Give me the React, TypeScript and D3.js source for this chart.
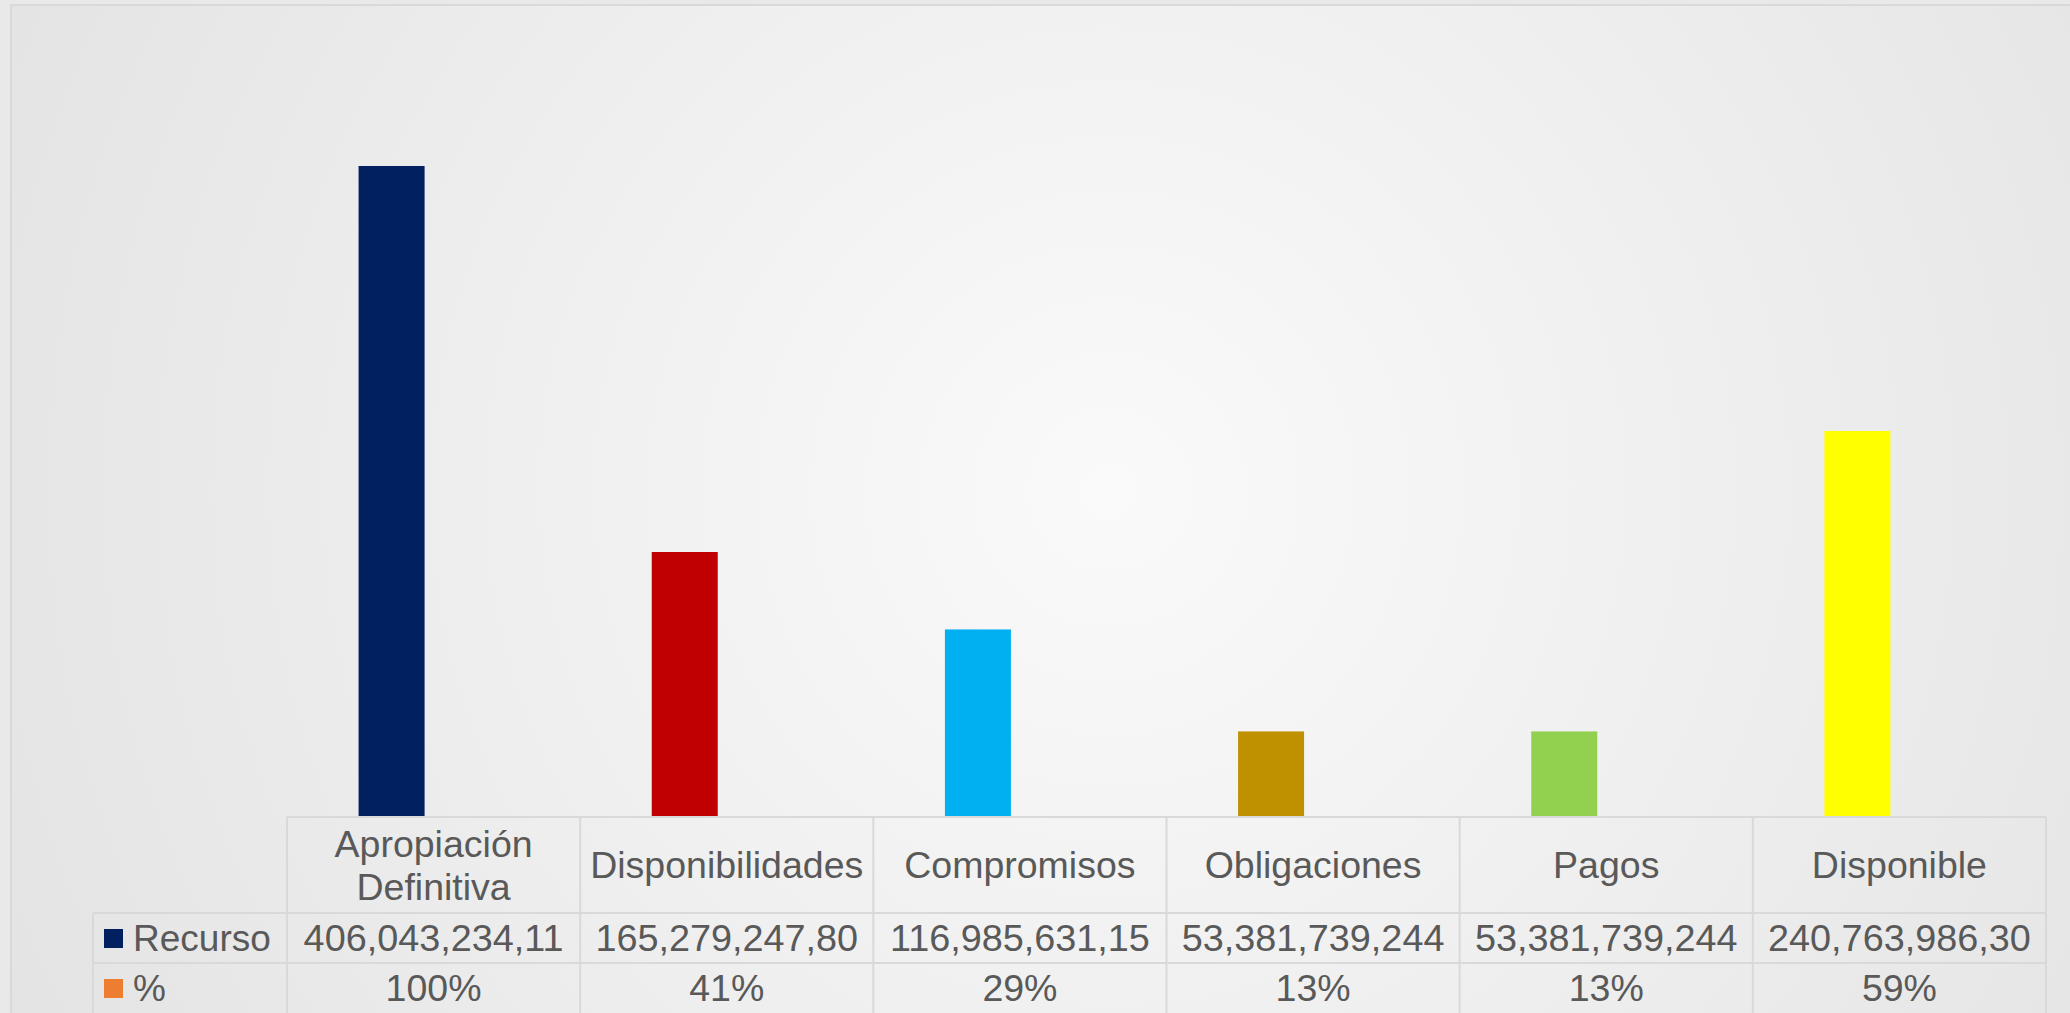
import React from "react";
import * as d3 from "d3";

const categories = ["Apropiación\nDefinitiva", "Disponibilidades", "Compromisos", "Obligaciones", "Pagos", "Disponible"];
const seriesNames = ["Recurso", "%"];
const recursoValues = [406043234.11, 165279247.8, 116985631.15, 53381739.244, 53381739.244, 240763986.3];
const recursoLabels = ["406,043,234,11", "165,279,247,80", "116,985,631,15", "53,381,739,244", "53,381,739,244", "240,763,986,30"];
const percentValues = [1.0, 0.41, 0.29, 0.13, 0.13, 0.59];
const barColors = ["#002060", "#C00000", "#00B0F0", "#BF9000", "#92D050", "#FFFF00"];
const seriesColors = ["#002060", "#ED7D31"];

const W = 2070;
const H = 1013;
const FONT = "'Liberation Sans', Arial, sans-serif";
const TEXT = "#595959";
const GRID = "#d9d9d9";

export default function App() {
  const x = d3.scaleBand<string>().domain(categories).range([287, 2046]).padding(0);
  const bw = x.bandwidth();
  const xs = d3.scaleBand<string>().domain(seriesNames).range([bw / 2 - 75, bw / 2 + 75]).paddingInner(0.2143).paddingOuter(0);
  const y = d3.scaleLinear().domain([0, 450000000]).range([817, 817 - 450 * 1.6033]);
  const pct = d3.format(".0%");

  const tableLeft = 93;
  const headerTop = 817;
  const row1Top = 913;
  const row2Top = 963;
  const tableBottom = 1020;
  const right = x.range()[1];

  return (
    <svg width={W} height={H} style={{ position: "absolute", left: 0, top: 0, display: "block" }}>
      <defs>
        <radialGradient id="bg" gradientUnits="userSpaceOnUse" cx={1110} cy={490} r={1250}>
          <stop offset="0" stopColor="#fafafa" />
          <stop offset="1" stopColor="#e3e3e3" />
        </radialGradient>
      </defs>
      <rect x={0} y={0} width={W} height={H} fill="#e9e9e9" />
      <rect x={11} y={5} width={W + 50} height={H + 50} fill="url(#bg)" stroke={GRID} strokeWidth={2} />

      {/* bars */}
      {categories.map((c, i) => (
        <g key={c}>
          <rect
            x={(x(c) ?? 0) + (xs("Recurso") ?? 0)}
            y={y(recursoValues[i])}
            width={xs.bandwidth()}
            height={y(0) - y(recursoValues[i])}
            fill={barColors[i]}
          />
          <rect
            x={(x(c) ?? 0) + (xs("%") ?? 0)}
            y={y(percentValues[i])}
            width={xs.bandwidth()}
            height={y(0) - y(percentValues[i])}
            fill={seriesColors[1]}
          />
        </g>
      ))}

      {/* table lines */}
      <g stroke={GRID} strokeWidth={2} fill="none">
        <line x1={287} x2={right} y1={headerTop} y2={headerTop} />
        <line x1={tableLeft} x2={right} y1={row1Top} y2={row1Top} />
        <line x1={tableLeft} x2={right} y1={row2Top} y2={row2Top} />
        <line x1={tableLeft} x2={tableLeft} y1={row1Top} y2={tableBottom} />
        {categories.map((c) => (
          <line key={c} x1={x(c)} x2={x(c)} y1={headerTop} y2={tableBottom} />
        ))}
        <line x1={right} x2={right} y1={headerTop} y2={tableBottom} />
      </g>

      {/* header labels */}
      <g fontFamily={FONT} fill={TEXT} fontSize={37.5} textAnchor="middle">
        {categories.map((c) => {
          const lines = c.split("\n");
          const cx = (x(c) ?? 0) + bw / 2;
          const cy = (headerTop + row1Top) / 2;
          const lh = 43;
          const startBase = cy + 13 - ((lines.length - 1) * lh) / 2;
          return (
            <text key={c} x={cx}>
              {lines.map((l, k) => (
                <tspan key={k} x={cx} y={startBase + k * lh}>
                  {l}
                </tspan>
              ))}
            </text>
          );
        })}
      </g>

      {/* row labels */}
      <g fontFamily={FONT} fill={TEXT} fontSize={37}>
        {seriesNames.map((s, r) => {
          const top = r === 0 ? row1Top : row2Top;
          return (
            <g key={s}>
              <rect x={104} y={top + 16} width={19} height={19} fill={seriesColors[r]} />
              <text x={133} y={top + 38}>
                {s}
              </text>
            </g>
          );
        })}
      </g>

      {/* values */}
      <g fontFamily={FONT} fill={TEXT} textAnchor="middle">
        {categories.map((c, i) => {
          const cx = (x(c) ?? 0) + bw / 2;
          return (
            <g key={c}>
              <text x={cx} y={row1Top + 38} fontSize={37.8}>
                {recursoLabels[i]}
              </text>
              <text x={cx} y={row2Top + 38} fontSize={37.5}>
                {pct(percentValues[i])}
              </text>
            </g>
          );
        })}
      </g>
    </svg>
  );
}
